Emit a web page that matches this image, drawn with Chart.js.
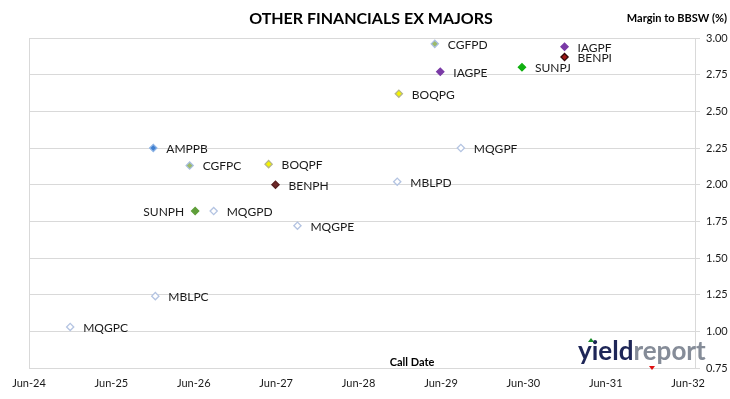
<!DOCTYPE html>
<html>
<head>
<meta charset="utf-8">
<script src="https://cdn.jsdelivr.net/npm/chart.js@4/dist/chart.umd.min.js"></script>
<style>
html,body{margin:0;padding:0;background:#fff;}
#wrap{width:730px;height:399px;position:relative;}
</style>
</head>
<body>
<div id="wrap"><canvas id="c" width="730" height="399"></canvas></div>
<script>
// ---- data ----
const codes = ['MQGPC','MBLPC','AMPPB','CGFPC','SUNPH','MQGPD','BOQPF','BENPH','MQGPE','MBLPD','BOQPG','CGFPD','IAGPE','MQGPF','SUNPJ','IAGPF','BENPI'];
const callDates = ['2024-12-01','2025-12-13','2025-12-04','2026-05-13','2026-06-07','2026-08-28','2027-04-28','2027-05-28','2027-09-04','2028-11-20','2028-11-27','2029-05-04','2029-05-28','2029-08-28','2030-05-25','2030-12-01','2030-12-01'];
const margins = [1.03,1.24,2.25,2.13,1.82,1.82,2.14,2.00,1.72,2.02,2.62,2.96,2.77,2.25,2.80,2.94,2.87];
const xTickLabels = ['Jun-24','Jun-25','Jun-26','Jun-27','Jun-28','Jun-29','Jun-30','Jun-31','Jun-32'];
const yTickLabels = ['0.75','1.00','1.25','1.50','1.75','2.00','2.25','2.50','2.75','3.00'];

// ---- styles (by issuer) ----
const styleOf = {
  MQG:{fill:'#ffffff',border:'#b4c4e2'}, MBL:{fill:'#ffffff',border:'#b4c4e2'},
  AMP:{fill:'#3f7fd0',border:'#8fb5e6'}, CGF:{fill:'#9cba6a',border:'#a9bfe0'},
  BOQ:{fill:'#f4f400',border:'#b5b58a'}, BEN:{fill:'#8a1a1a',border:'#4a1010'},
  SUN:{fill:'#5f9e3a',border:'#5f9e3a'}, IAG:{fill:'#7a3aa6',border:'#7a3aa6'}
};
const special = {SUNPJ:{fill:'#10b010',border:'#10b010'}, BENPH:{fill:'#6e2a2a',border:'#5a2020'}, BENPI:{fill:'#a01818',border:'#300808'}};
const st = c => special[c] || styleOf[c.slice(0,3)];

function monthsSinceJun24(s){
  const [y,m,d] = s.split('-').map(Number);
  return (y-2024)*12 + (m-6) + (d-1)/30;
}
const points = codes.map((c,i)=>({x:monthsSinceJun24(callDates[i]), y:margins[i], code:c}));

const FONT = 'Lato, "Open Sans", sans-serif';

const labelPlugin = {
  id:'labels',
  afterDatasetsDraw(chart){
    const ctx = chart.ctx;
    const meta = chart.getDatasetMeta(0);
    ctx.save();
    ctx.font = '12px ' + FONT;
    ctx.fillStyle = '#1a1a1a';
    ctx.textBaseline = 'middle';
    meta.data.forEach((el,i)=>{
      const c = codes[i];
      if (c === 'SUNPH') { ctx.textAlign='right'; ctx.fillText(c, el.x-11, el.y+1); }
      else { ctx.textAlign='left'; ctx.fillText(c, el.x+13, el.y+1); }
    });
    ctx.restore();
  },
  afterDraw(chart){
    const ctx = chart.ctx;
    ctx.save();
    ctx.fillStyle = '#000';
    ctx.textBaseline = 'middle';
    ctx.textAlign = 'center';
    ctx.font = 'bold 16px ' + FONT;
    ctx.fillText('OTHER FINANCIALS EX MAJORS', 371, 19);
    ctx.font = 'bold 11px ' + FONT;
    ctx.textAlign = 'right';
    ctx.fillText('Margin to BBSW (%)', 727, 18);
    ctx.textAlign = 'center';
    ctx.fillText('Call Date', 412, 362);
    // logo
    ctx.font = 'bold 26px ' + FONT;
    ctx.textAlign = 'left';
    ctx.textBaseline = 'alphabetic';
    ctx.fillStyle = '#1e2657';
    ctx.fillText('yield', 578, 360);
    const w = ctx.measureText('yield').width;
    ctx.fillStyle = '#858c98';
    ctx.fillText('report', 578 + w, 360);
    ctx.fillStyle = '#1a8a2a';
    ctx.beginPath(); ctx.moveTo(591,338); ctx.lineTo(594,342); ctx.lineTo(588,342); ctx.fill();
    ctx.fillStyle = '#e01010';
    ctx.beginPath(); ctx.moveTo(649,366); ctx.lineTo(655,366); ctx.lineTo(652,370); ctx.fill();
    ctx.restore();
  }
};

new Chart(document.getElementById('c'), {
  type:'scatter',
  data:{datasets:[{
    data: points,
    pointStyle:'rectRot',
    pointRadius:3.6,
    pointHoverRadius:3.6,
    pointBorderWidth:1.3,
    pointBackgroundColor: codes.map(c=>st(c).fill),
    pointBorderColor: codes.map(c=>st(c).border)
  }]},
  options:{
    responsive:false,
    animation:false,
    devicePixelRatio:1,
    layout:{padding:{top:38,left:29,right:0,bottom:0}},
    plugins:{legend:{display:false},tooltip:{enabled:false},title:{display:false}},
    scales:{
      x:{
        type:'linear', min:0, max:97,
        afterFit(s){ s.height = 31; },
        afterBuildTicks(s){ s.ticks = xTickLabels.map((_,i)=>({value:i*12})); },
        grid:{drawTicks:false, color:ctx=> (ctx.tick && ctx.tick.value===0) ? '#d9d9d9' : 'rgba(0,0,0,0)'},
        border:{display:true,color:'#d9d9d9'},
        ticks:{
          padding:9, maxRotation:0, autoSkip:false,
          color:'#1a1a1a', font:{family:FONT,size:11},
          callback:(v)=> xTickLabels[Math.round(v/12)]
        }
      },
      y:{
        position:'right', min:0.75, max:3.0,
        afterFit(s){ s.width = 35; },
        afterBuildTicks(s){ s.ticks = yTickLabels.map(t=>({value:parseFloat(t)})); },
        grid:{color:'#d9d9d9', tickLength:5, tickColor:'#d9d9d9'},
        border:{display:true,color:'#d9d9d9'},
        ticks:{
          padding:6, color:'#1a1a1a', font:{family:FONT,size:11},
          callback:(v)=> yTickLabels.find(t=>Math.abs(parseFloat(t)-v)<1e-6)
        }
      }
    }
  },
  plugins:[labelPlugin]
});
</script>
</body>
</html>
